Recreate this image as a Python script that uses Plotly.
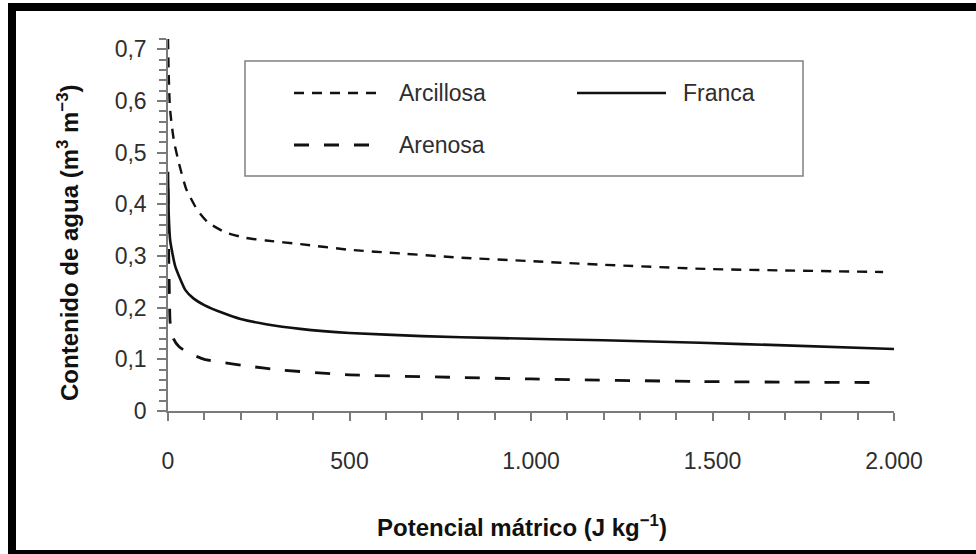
import plotly.graph_objects as go

# Water retention curves: matric potential (J/kg) vs volumetric water content (m3/m3)
arcillosa_x = [0, 2, 5, 10, 17, 30, 50, 80, 110, 160, 215, 270, 365, 500, 640, 800, 1000, 1200, 1480, 1700, 1970]
arcillosa_y = [0.72, 0.65, 0.59, 0.555, 0.52, 0.48, 0.43, 0.39, 0.365, 0.345, 0.335, 0.33, 0.323, 0.312, 0.305, 0.297, 0.29, 0.283, 0.275, 0.272, 0.269]

franca_x = [0, 2, 6, 20, 48, 70, 100, 150, 200, 270, 364, 500, 700, 915, 1200, 1466, 1700, 2000]
franca_y = [0.463, 0.38, 0.33, 0.28, 0.234, 0.218, 0.205, 0.19, 0.178, 0.168, 0.159, 0.151, 0.145, 0.141, 0.137, 0.132, 0.127, 0.12]

arenosa_x = [0, 2, 4, 6, 15, 30, 57, 100, 139, 231, 300, 500, 800, 1000, 1470, 1970]
arenosa_y = [0.43, 0.3, 0.22, 0.17, 0.14, 0.125, 0.112, 0.1, 0.095, 0.086, 0.08, 0.07, 0.065, 0.062, 0.057, 0.055]

series_names = ["Arcillosa", "Franca", "Arenosa"]
x_ticks = [0, 500, 1000, 1500, 2000]

FONT = "Liberation Sans, Arial, Helvetica, sans-serif"
INK = "#111111"
LABEL = "#2e2e2e"
AXIS = "#7a7a7a"

styles = {
    "Arcillosa": dict(dash="10px,8px", width=2.4),
    "Franca": dict(dash="solid", width=2.6),
    "Arenosa": dict(dash="15px,15px", width=2.8),
}

fig = go.Figure()
for name, xs, ys in [("Arcillosa", arcillosa_x, arcillosa_y),
                     ("Franca", franca_x, franca_y),
                     ("Arenosa", arenosa_x, arenosa_y)]:
    fig.add_trace(go.Scatter(
        x=xs, y=ys, mode="lines", name=name,
        line=dict(color=INK, width=styles[name]["width"], dash=styles[name]["dash"],
                  shape="spline", smoothing=0.5),
        showlegend=False,
    ))

# plot-area geometry in pixels
W, H = 976, 554
L, R, T, B = 168, 82, 39, 143
PW, PH = W - L - R, H - T - B


def px(xp):
    return (xp - L) / PW


def py(yp):
    return (H - B - yp) / PH


fig.update_layout(
    width=W, height=H,
    margin=dict(l=L, r=R, t=T, b=B),
    paper_bgcolor="white", plot_bgcolor="white",
    separators=",.",
    showlegend=False,
    font=dict(family=FONT, color=LABEL, size=23),
)

fig.update_xaxes(
    range=[0, 2000], tickvals=x_ticks, separatethousands=True,
    showline=True, linecolor=AXIS, linewidth=1.5,
    ticks="outside", ticklen=8, tickwidth=1.5, tickcolor=AXIS,
    minor=dict(dtick=100, tick0=0, ticks="outside", ticklen=7, tickwidth=1.5, tickcolor=AXIS, showgrid=False),
    showgrid=False, zeroline=False,
    tickfont=dict(size=23, color=LABEL),
    ticklabelstandoff=21,
)
fig.update_yaxes(
    range=[0, 0.72], tick0=0, dtick=0.1,
    showline=True, linecolor=AXIS, linewidth=1.5,
    ticks="outside", ticklen=9, tickwidth=1.5, tickcolor=AXIS,
    minor=dict(dtick=0.02, tick0=0, ticks="outside", ticklen=7, tickwidth=1.5, tickcolor=AXIS, showgrid=False),
    showgrid=False, zeroline=False,
    tickfont=dict(size=23, color=LABEL),
    ticklabelstandoff=6,
)

shapes = []
annotations = []

# axis titles
annotations.append(dict(
    xref="paper", yref="paper", x=px(68), y=py(243), xanchor="center", yanchor="middle",
    text="Contenido de agua (m<sup>3</sup> m<sup>\u22123</sup>)", textangle=-90, showarrow=False,
    font=dict(family=FONT, size=24, color=INK, weight="bold"),
))
annotations.append(dict(
    xref="paper", yref="paper", x=px(522), y=py(526), xanchor="center", yanchor="middle",
    text="Potencial mátrico (J kg<sup>\u22121</sup>)", showarrow=False,
    font=dict(family=FONT, size=24, color=INK, weight="bold"),
))

# legend box
shapes.append(dict(type="rect", xref="paper", yref="paper",
                   x0=px(245), x1=px(803), y0=py(61), y1=py(176),
                   line=dict(color="#808080", width=1.5), fillcolor="rgba(0,0,0,0)", layer="above"))
legend_items = [
    ("Arcillosa", 294, 379, 397, 93),
    ("Franca", 577, 666, 681, 93),
    ("Arenosa", 294, 370, 397, 145),
]
for name, lx0, lx1, tx, ly in legend_items:
    shapes.append(dict(type="line", xref="paper", yref="paper",
                       x0=px(lx0), x1=px(lx1), y0=py(ly), y1=py(ly),
                       line=dict(color=INK, width=styles[name]["width"], dash=styles[name]["dash"])))
    annotations.append(dict(xref="paper", yref="paper", x=px(tx), y=py(ly),
                            xanchor="left", yanchor="middle", text=name, showarrow=False,
                            font=dict(family=FONT, size=23, color=LABEL)))

# black frame around the figure
shapes.append(dict(type="rect", xref="paper", yref="paper",
                   x0=px(12), x1=px(W + 10), y0=py(7), y1=py(554),
                   line=dict(color="black", width=8), fillcolor="rgba(0,0,0,0)"))

fig.update_layout(shapes=shapes, annotations=annotations)

fig.write_html("out.html")
